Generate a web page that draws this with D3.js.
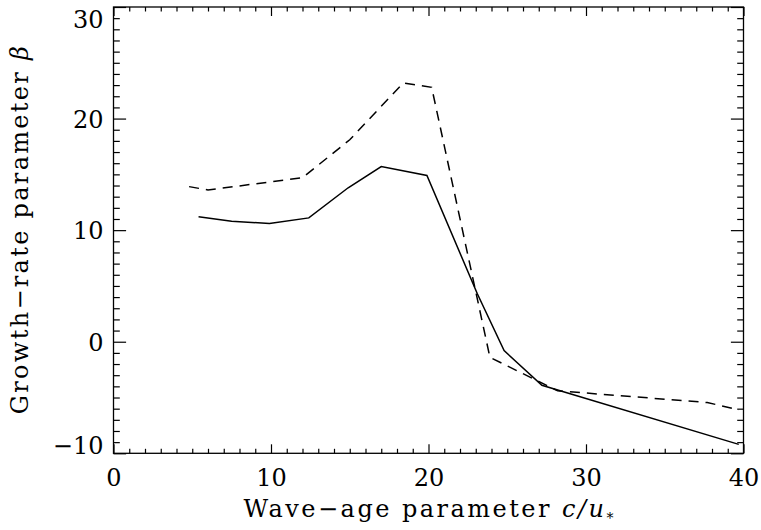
<!DOCTYPE html>
<html><head><meta charset="utf-8">
<script src="https://cdn.jsdelivr.net/npm/d3@7"></script>
<style>body{margin:0;background:#fff}svg{display:block}</style>
</head><body><svg id="c" width="761" height="530"></svg>
<script>
// Data
const solidX = [5.4, 7.5, 9.9, 12.4, 14.9, 17.0, 19.9, 23.1, 24.8, 27.2, 39.7];
const solidY = [11.2, 10.8, 10.6, 11.1, 13.8, 15.7, 14.9, 4.3, -0.8, -3.9, -9.2];
const dashX  = [4.8, 6.0, 12.0, 15.0, 18.4, 20.2, 23.9, 28.2, 37.7, 39.7];
const dashY  = [13.9, 13.6, 14.7, 18.1, 23.2, 22.8, -1.4, -4.4, -5.45, -6.1];
const xTicks = [0, 10, 20, 30, 40];
const yTicks = [-10, 0, 10, 20, 30];
const xTickLabels = ["0", "10", "20", "30", "40"];
const yTickLabels = ["\u221210", "0", "10", "20", "30"];

const svg = d3.select("#c");
const L = 113.5, R = 743.5, T = 7, B = 453.3;
const x = d3.scaleLinear().domain([0, 40]).range([L, R]);
const y = d3.scaleLinear().domain([-10, 30]).range([B, T]);
const FONT = "'DejaVu Serif', serif";
const xMinor = d3.range(0, 41, 1).filter(v => v % 10 !== 0);
const yMinor = d3.range(-10, 31, 1).filter(v => v % 10 !== 0);

function style(g) {
  g.select(".domain").remove();
  g.selectAll("line").attr("stroke", "#000").attr("stroke-width", 1.2);
  g.selectAll("text").attr("fill", "#000").style("font-family", FONT).style("font-size", "24px");
}

// bottom major with labels
const gb = svg.append("g").attr("transform", `translate(0,${B})`)
  .call(d3.axisBottom(x).tickValues(xTicks).tickSize(-9).tickPadding(16)
    .tickFormat((d, i) => xTickLabels[i]));
style(gb);
// bottom minor
style(svg.append("g").attr("transform", `translate(0,${B})`)
  .call(d3.axisBottom(x).tickValues(xMinor).tickSize(-4.5).tickFormat("")));
// top
style(svg.append("g").attr("transform", `translate(0,${T})`)
  .call(d3.axisTop(x).tickValues(xTicks).tickSize(-9).tickFormat("")));
style(svg.append("g").attr("transform", `translate(0,${T})`)
  .call(d3.axisTop(x).tickValues(xMinor).tickSize(-4.5).tickFormat("")));
// left major with labels
const gl = svg.append("g").attr("transform", `translate(${L},0)`)
  .call(d3.axisLeft(y).tickValues(yTicks).tickSize(-12.6).tickPadding(10)
    .tickFormat((d, i) => yTickLabels[i]));
style(gl);
gl.selectAll("text")
  .attr("dy", d => d === 30 ? "0.86em" : d === -10 ? "0.02em" : "0.36em");
style(svg.append("g").attr("transform", `translate(${L},0)`)
  .call(d3.axisLeft(y).tickValues(yMinor).tickSize(-6.3).tickFormat("")));
// right
style(svg.append("g").attr("transform", `translate(${R},0)`)
  .call(d3.axisRight(y).tickValues(yTicks).tickSize(-12.6).tickFormat("")));
style(svg.append("g").attr("transform", `translate(${R},0)`)
  .call(d3.axisRight(y).tickValues(yMinor).tickSize(-6.3).tickFormat("")));

// frame
svg.append("rect").attr("x", L).attr("y", T).attr("width", R - L).attr("height", B - T)
  .attr("fill", "none").attr("stroke", "#000").attr("stroke-width", 1.3);

// lines
const line = d3.line().x(d => x(d[0])).y(d => y(d[1]));
svg.append("path").datum(solidX.map((v, i) => [v, solidY[i]]))
  .attr("d", line).attr("fill", "none").attr("stroke", "#000").attr("stroke-width", 1.5);
svg.append("path").datum(dashX.map((v, i) => [v, dashY[i]]))
  .attr("d", line).attr("fill", "none").attr("stroke", "#000").attr("stroke-width", 1.5)
  .attr("stroke-dasharray", "10,7");

// x title
const xt = svg.append("text").attr("x", (L + R) / 2).attr("y", 517)
  .attr("text-anchor", "middle").style("font-family", FONT).style("font-size", "24px")
  .attr("textLength", 370).attr("lengthAdjust", "spacing");
xt.append("tspan").text("Wave\u2212age parameter ");
xt.append("tspan").style("font-style", "italic").text("c/u");
xt.append("tspan").style("font-size", "14px").attr("dy", "6").text("*");

// y title
const yt = svg.append("text").attr("transform", `translate(28,${(T + B) / 2}) rotate(-90)`)
  .attr("text-anchor", "middle").style("font-family", FONT).style("font-size", "24px")
  .attr("textLength", 368).attr("lengthAdjust", "spacing");
yt.append("tspan").text("Growth\u2212rate parameter ");
yt.append("tspan").style("font-style", "italic").text("\u03b2");
</script>
</body></html>
